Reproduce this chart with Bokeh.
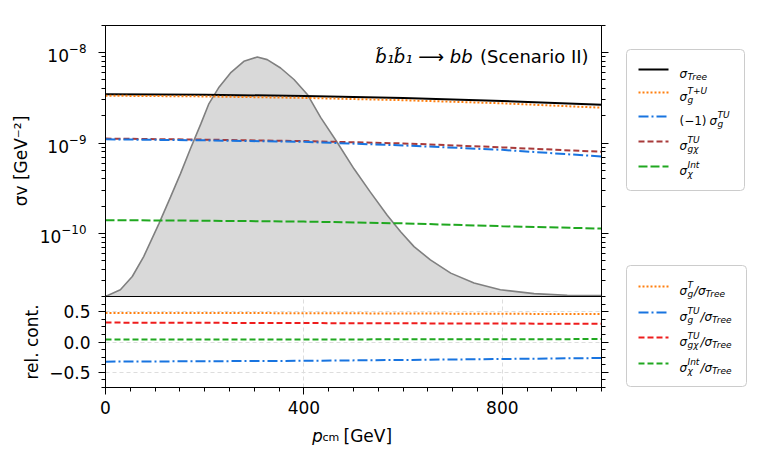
import math
from bokeh.plotting import figure
from bokeh.models import Range1d, FixedTicker, LogAxis, LinearAxis, CustomJSTickFormatter
from bokeh.layouts import row, column
from bokeh.embed import file_html
from bokeh.resources import INLINE
from bokeh.core.properties import value

FONT = "DejaVu Sans"

# ---------------- data ----------------
p_cm = [0, 200, 400, 600, 800, 1000]
sigma_tree = [3.46e-9, 3.42e-9, 3.32e-9, 3.15e-9, 2.92e-9, 2.66e-9]
sigma_g_TpU = [3.34e-9, 3.28e-9, 3.16e-9, 2.98e-9, 2.75e-9, 2.46e-9]
minus_sigma_g_TU = [1.10e-9, 1.07e-9, 1.03e-9, 9.4e-10, 8.4e-10, 7.1e-10]
sigma_gchi_TU = [1.12e-9, 1.09e-9, 1.05e-9, 9.9e-10, 8.95e-10, 8.0e-10]
sigma_chi_Int = [1.40e-10, 1.38e-10, 1.35e-10, 1.29e-10, 1.20e-10, 1.13e-10]

rel_g_T = [0.48, 0.478, 0.475, 0.47, 0.465, 0.46]
rel_g_TU = [-0.324, -0.317, -0.31, -0.296, -0.28, -0.264]
rel_gchi_TU = [0.32, 0.316, 0.312, 0.308, 0.304, 0.30]
rel_chi_Int = [0.040, 0.041, 0.042, 0.044, 0.046, 0.048]

dist_x = [0, 30, 54, 77, 108, 131, 151, 171, 192, 208, 228, 252, 279, 306, 326,
          353, 380, 407, 434, 467, 501, 534, 568, 595, 622, 655, 696, 743, 796,
          864, 931, 1000]
dist_y = [2.0e-11, 2.38e-11, 3.33e-11, 5.53e-11, 1.29e-10, 2.52e-10, 4.56e-10,
          8.59e-10, 1.62e-9, 2.69e-9, 4.08e-9, 5.97e-9, 8.02e-9, 8.95e-9, 8.38e-9,
          6.77e-9, 5.05e-9, 3.45e-9, 1.91e-9, 1.02e-9, 5.18e-10, 2.86e-10,
          1.59e-10, 1.04e-10, 7.13e-11, 5.09e-11, 3.63e-11, 2.82e-11, 2.38e-11,
          2.15e-11, 2.06e-11, 2.05e-11]

x_major = [0, 400, 800]
y_log_major = [1e-10, 1e-9, 1e-8]
y_rel_major = [-0.5, 0.0, 0.5]

title_italic = "b\u0303\u2081b\u0303\u2081 \u27f6 bb"
title_normal = "(Scenario II)"
ylabel_top = "\u03c3v [GeV\u207b\u00b2]"
ylabel_bot = "rel. cont."

ORANGE = "#ff7f0e"
BLUE = "#1874e0"
BROWN = "#a83a3a"
GREEN = "#20a820"
RED = "#ee1c1c"

# legend entries: (color, dash, pieces)  pieces: (text, dx, kind, italic)
legend_top = [
    ("black", "solid", [("\u03c3", 0, "main", True), ("Tree", 8, "sub", True)]),
    (ORANGE, "2 2", [("\u03c3", 0, "main", True), ("T+U", 8, "sup", True), ("g", 8, "sub", True)]),
    (BLUE, "10 3 2 3", [("(\u22121)", 0, "main", False), ("\u03c3", 30, "main", True),
                        ("TU", 38, "sup", True), ("g", 38, "sub", True)]),
    (BROWN, "6 3", [("\u03c3", 0, "main", True), ("TU", 8, "sup", True), ("g\u03c7", 8, "sub", True)]),
    (GREEN, "9 3", [("\u03c3", 0, "main", True), ("Int", 8, "sup", True), ("\u03c7", 8, "sub", True)]),
]
legend_bot = [
    (ORANGE, "2 2", [("\u03c3", 0, "main", True), ("T", 8, "sup", True), ("g", 8, "sub", True),
                     ("/\u03c3", 14.5, "main", True), ("Tree", 26, "sub", True)]),
    (BLUE, "10 3 2 3", [("\u03c3", 0, "main", True), ("TU", 8, "sup", True), ("g", 8, "sub", True),
                        ("/\u03c3", 21, "main", True), ("Tree", 32.5, "sub", True)]),
    (RED, "6 3", [("\u03c3", 0, "main", True), ("TU", 8, "sup", True), ("g\u03c7", 8, "sub", True),
                  ("/\u03c3", 21, "main", True), ("Tree", 32.5, "sub", True)]),
    (GREEN, "6 3", [("\u03c3", 0, "main", True), ("Int", 8, "sup", True), ("\u03c7", 8, "sub", True),
                    ("/\u03c3", 21, "main", True), ("Tree", 32.5, "sub", True)]),
]

# ---------------- layout constants ----------------
LEFT = 105
RIGHT = 12
FRAME_W = 496
W_MAIN = LEFT + FRAME_W + RIGHT
TOP_H = 296
BOT_H = 125
XLAB_H = 24
LEG_W = 136
TOTAL_H = TOP_H + BOT_H + XLAB_H


def style_axis(ax, labels=True):
    ax.axis_line_color = "black"
    ax.axis_line_width = 1
    ax.major_tick_line_color = "black"
    ax.minor_tick_line_color = "black"
    ax.major_tick_out = 7
    ax.major_tick_in = 0
    ax.minor_tick_out = 4
    ax.minor_tick_in = 0
    ax.major_label_text_font = FONT
    ax.major_label_text_font_size = "17px"
    ax.major_label_text_color = "black"
    ax.axis_label_text_font = FONT
    ax.axis_label_text_font_size = "17px"
    ax.axis_label_text_font_style = "normal"
    ax.axis_label_text_color = "black"
    if not labels:
        ax.formatter = CustomJSTickFormatter(code="return '';")
        ax.major_label_standoff = 0


# ---------------- top panel ----------------
top = figure(width=W_MAIN, height=TOP_H, y_axis_type="log",
             x_range=Range1d(0, 1000), y_range=Range1d(2e-11, 2e-8),
             toolbar_location=None, output_backend="svg",
             min_border_left=LEFT, min_border_right=RIGHT,
             min_border_top=25, min_border_bottom=0,
             x_axis_location=None)
top.grid.visible = False
top.outline_line_color = "black"
top.outline_line_width = 1

minor_log = [k * 10.0 ** e for e in range(-12, -7) for k in range(2, 10)]
log_ticker = FixedTicker(ticks=y_log_major, minor_ticks=minor_log)
top.yaxis.ticker = log_ticker
style_axis(top.yaxis[0])
top.yaxis.axis_label = ylabel_top
top.yaxis.major_label_standoff = 12
top.yaxis.axis_label_standoff = 6
right_log = LogAxis(ticker=log_ticker)
style_axis(right_log, labels=False)
top.add_layout(right_log, "right")

top.varea(x=dist_x, y1=[1e-12] * len(dist_x), y2=dist_y, fill_color="#d9d9d9", fill_alpha=1.0)
top.line(dist_x, dist_y, line_color="#808080", line_width=1.6)

top.line(p_cm, sigma_chi_Int, line_color=GREEN, line_width=2, line_dash="9 3")
top.line(p_cm, sigma_gchi_TU, line_color=BROWN, line_width=2, line_dash="6 3")
top.line(p_cm, minus_sigma_g_TU, line_color=BLUE, line_width=2, line_dash="10 3 2 3")
top.line(p_cm, sigma_tree, line_color="black", line_width=2)
top.line(p_cm, sigma_g_TpU, line_color=ORANGE, line_width=2, line_dash="2 2")

TITLE_X = 974
TITLE_Y = 9.1e-9
top.text(x=[TITLE_X], y=[TITLE_Y], text=[title_normal], text_align="right",
         text_baseline="alphabetic", text_font=value(FONT), text_font_size="18px",
         text_color="black")
top.text(x=[TITLE_X], y=[TITLE_Y], text=[title_italic], text_align="right",
         text_baseline="alphabetic", text_font=value(FONT), text_font_size="18px",
         text_font_style="italic", text_color="black", x_offset=-116)

# ---------------- bottom panel ----------------
bot = figure(width=W_MAIN, height=BOT_H, x_range=top.x_range,
             y_range=Range1d(-0.75, 0.75), toolbar_location=None,
             output_backend="svg", min_border_left=LEFT, min_border_right=RIGHT,
             min_border_top=0, min_border_bottom=BOT_H - 91)
bot.outline_line_color = "black"
bot.outline_line_width = 1

xt = FixedTicker(ticks=x_major, minor_ticks=list(range(0, 1001, 50)))
yt = FixedTicker(ticks=y_rel_major, minor_ticks=[-0.75 + 0.125 * i for i in range(13)])
bot.xaxis.ticker = xt
bot.yaxis.ticker = yt
bot.xgrid.ticker = xt
bot.ygrid.ticker = yt
for g in (bot.xgrid[0], bot.ygrid[0]):
    g.grid_line_color = "#dddddd"
    g.grid_line_dash = "4 3"
    g.grid_line_width = 1
style_axis(bot.xaxis[0])
style_axis(bot.yaxis[0])
bot.xaxis.major_label_standoff = 6
bot.yaxis.major_label_standoff = 8
bot.yaxis.formatter = CustomJSTickFormatter(code="return tick.toFixed(1).replace('-', '\u2212');")
bot.yaxis.axis_label = ylabel_bot
bot.yaxis.axis_label_standoff = 4
right_lin = LinearAxis(ticker=yt)
style_axis(right_lin, labels=False)
bot.add_layout(right_lin, "right")

bot.line(p_cm, rel_g_T, line_color=ORANGE, line_width=2, line_dash="2 2")
bot.line(p_cm, rel_gchi_TU, line_color=RED, line_width=2, line_dash="6 3")
bot.line(p_cm, rel_chi_Int, line_color=GREEN, line_width=2, line_dash="6 3")
bot.line(p_cm, rel_g_TU, line_color=BLUE, line_width=2, line_dash="10 3 2 3")

# ---------------- x label strip (frame is aligned with the panels above) ----------------
xlab = figure(width=W_MAIN, height=XLAB_H, x_range=Range1d(LEFT, LEFT + FRAME_W),
              y_range=Range1d(XLAB_H, 0), toolbar_location=None,
              output_backend="svg", min_border=0, x_axis_location=None,
              y_axis_location=None, outline_line_color=None)
xlab.grid.visible = False
xlab.text(x=[311.5], y=[14], text=["p"], text_font=value(FONT), text_font_size="17px",
          text_font_style="italic", text_baseline="alphabetic", text_color="black")
xlab.text(x=[322], y=[15.5], text=["cm"], text_font=value(FONT), text_font_size="11px",
          text_baseline="alphabetic", text_color="black")
xlab.text(x=[343], y=[14], text=["[GeV]"], text_font=value(FONT), text_font_size="17px",
          text_baseline="alphabetic", text_color="black")

# ---------------- legend strip ----------------
leg = figure(width=LEG_W, height=TOTAL_H, x_range=Range1d(0, LEG_W),
             y_range=Range1d(TOTAL_H, 0), toolbar_location=None,
             output_backend="svg", min_border=0, x_axis_location=None,
             y_axis_location=None, outline_line_color=None)
leg.grid.visible = False

leg.quad(left=[13, 13], right=[131, 133], top=[49, 265], bottom=[190, 386],
         fill_color="white", line_color="#cccccc", line_width=1, border_radius=4)

SIZES = {"main": "12px", "sup": "9px", "sub": "9px"}
DY = {"main": 0, "sup": -6, "sub": 3.5}


def draw_entries(entries, rows):
    for (color, dash, pieces), yc in zip(entries, rows):
        leg.line([25, 55], [yc, yc], line_color=color, line_width=2, line_dash=dash)
        yb = yc + 4
        for text, dx, kind, italic in pieces:
            leg.text(x=[66 + dx], y=[yb + DY[kind]], text=[text],
                     text_font=value(FONT), text_font_size=SIZES[kind],
                     text_font_style="italic" if italic else "normal",
                     text_baseline="alphabetic", text_color="black")


draw_entries(legend_top, [69, 92, 116, 141, 166])
draw_entries(legend_bot, [286, 312, 337, 363])

layout = row(column(top, bot, xlab), leg)
with open("out.html", "w", encoding="utf-8") as f:
    f.write(file_html(layout, INLINE))
